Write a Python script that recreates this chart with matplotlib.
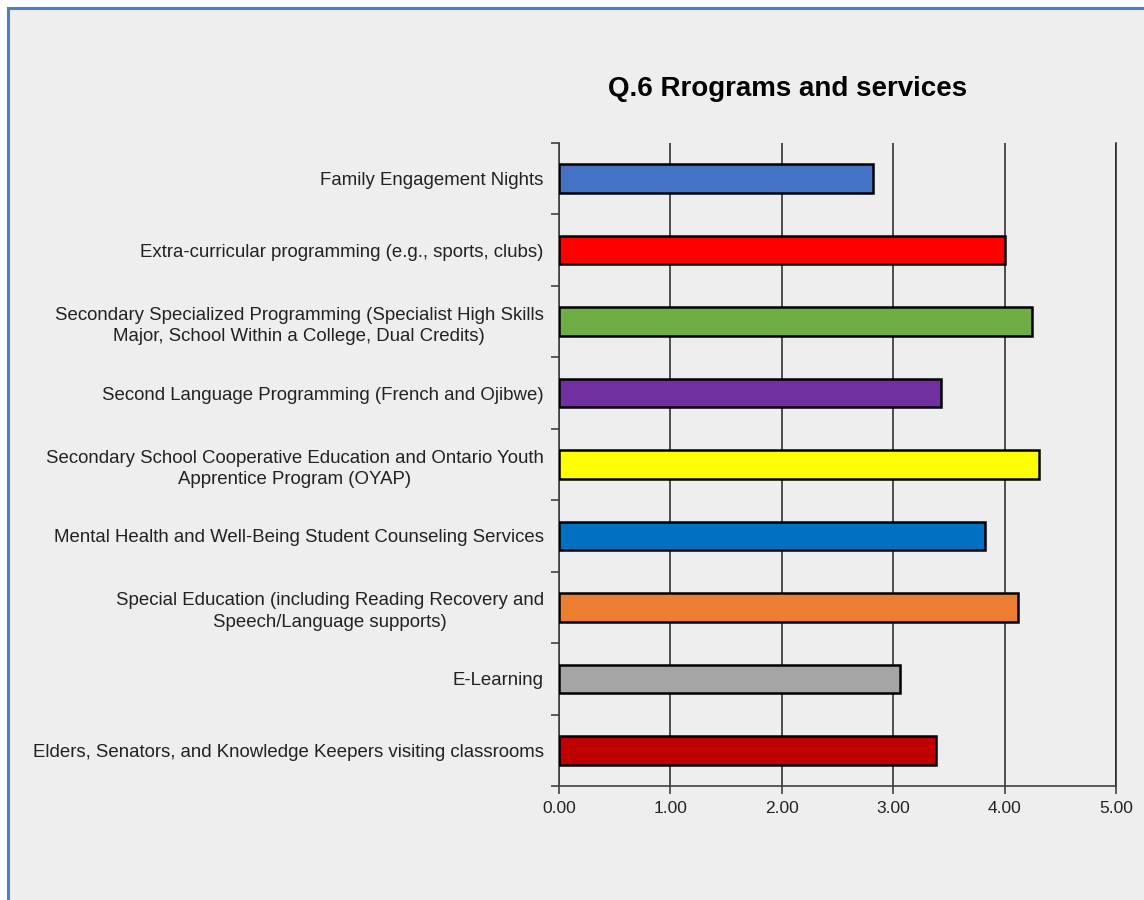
import matplotlib.pyplot as plt
from matplotlib.patches import Rectangle

plt.rcParams['font.family'] = ['Liberation Sans', 'DejaVu Sans']

categories = [
    "Family Engagement Nights",
    "Extra-curricular programming (e.g., sports, clubs)",
    "Secondary Specialized Programming (Specialist High Skills\nMajor, School Within a College, Dual Credits)",
    "Second Language Programming (French and Ojibwe)",
    "Secondary School Cooperative Education and Ontario Youth\nApprentice Program (OYAP)",
    "Mental Health and Well-Being Student Counseling Services",
    "Special Education (including Reading Recovery and\nSpeech/Language supports)",
    "E-Learning",
    "Elders, Senators, and Knowledge Keepers visiting classrooms",
]
scores = [2.82, 4.00, 4.25, 3.43, 4.31, 3.82, 4.12, 3.06, 3.38]
colors = ['#4472C4', '#FF0000', '#70AD47', '#7030A0', '#FFFF00',
          '#0070C0', '#ED7D31', '#A5A5A5', '#C00000']
xticks = [0, 1, 2, 3, 4, 5]

bg = '#EEEEEE'
fig = plt.figure(figsize=(11.44, 9), dpi=100, facecolor='white')

# panel background with blue frame (left and top edges only visible)
fig.patches.append(Rectangle((8/1144, -0.2), 1.2, 1.2 - 8/900, transform=fig.transFigure,
                             facecolor=bg, edgecolor='#4F7FBF', lw=2.2, zorder=-2))

ax = fig.add_axes([559/1144, 1 - 786/900, 557/1144, 643/900])
ax.set_facecolor(bg)

pos = list(range(len(categories)))
ax.barh(pos, scores, height=0.4, color=colors, edgecolor='black', linewidth=1.8, zorder=3)

ax.set_xlim(0, 5)
ax.set_ylim(len(categories) - 0.5, -0.5)
ax.set_xticks(xticks)
ax.set_xticklabels(['%.2f' % v for v in xticks], fontsize=12.5, color='#222222')
ax.set_yticks(pos)
ax.set_yticklabels(categories, fontsize=13.4, color='#222222',
                   multialignment='center', linespacing=1.35)
ax.tick_params(axis='y', length=0, pad=11)
ax.set_yticks([p - 0.5 for p in pos] + [len(pos) - 0.5], minor=True)
ax.tick_params(axis='y', which='minor', length=6, color='#404040', width=1.2)
ax.tick_params(axis='x', length=6, color='#404040', width=1.2, pad=5)

ax.grid(axis='x', color='#222222', linewidth=1.1, zorder=0)
ax.axvline(5, color='#222222', linewidth=1.1, zorder=0, clip_on=False)
for s in ['top', 'right']:
    ax.spines[s].set_visible(False)
for s in ['left', 'bottom']:
    ax.spines[s].set_color('#404040')
    ax.spines[s].set_linewidth(1.2)

fig.text(788/1144, 1 - 89/900, 'Q.6 Rrograms and services', fontsize=20,
         fontweight='bold', ha='center', va='center', color='black')

fig.savefig('out.png', dpi=100, facecolor=fig.get_facecolor())
